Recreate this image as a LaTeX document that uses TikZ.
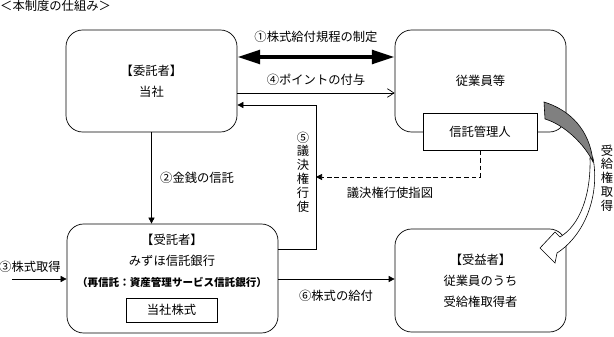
\documentclass[tikz,border=0pt]{standalone}
\usepackage{fontspec}
\setmainfont{Noto Sans CJK JP}
\usepackage{tikz}
\usetikzlibrary{arrows.meta}

\begin{document}
\begin{tikzpicture}[x=0.03cm, y=-0.03cm,
	font=\fontsize{10.5}{18}\selectfont,
	box/.style={draw, rounded corners=0.5cm, line width=0.6pt, align=center, inner sep=0pt},
	plainbox/.style={draw, fill=white, line width=0.6pt, inner sep=0pt},
	txt/.style={inner sep=0pt, align=center},
	vtxt/.style={inner sep=0pt, align=center, font=\fontsize{10.5}{11.8}\selectfont},
	arr/.style={line width=0.6pt, -{Triangle[length=1.8mm,width=1.8mm]}}]
				\useasboundingbox (0,0) rectangle (614,337);
				% Title
				\node[txt, anchor=west] (title) at (0,6) {＜本制度の仕組み＞};
				% Boxes
				\node[box, minimum width=5.13cm, minimum height=3.06cm] (itaku) at (151.5,81) {【委託者】\\当社};
				\node[box, minimum width=5.13cm, minimum height=3.06cm] (jugyo) at (480.5,81) {従業員等};
				\node[plainbox, minimum width=3.42cm, minimum height=1.11cm] (kanri) at (480,131.5) {信託管理人};
				\node[box, minimum width=6.33cm, minimum height=3.27cm] (jutaku) at (172.5,278.5) {};
				\node[txt] (jutakutext) at (172,261) {【受託者】\\みずほ信託銀行\\{\fontsize{9}{18}\selectfont\bfseries （再信託：資産管理サービス信託銀行）}};
				\node[plainbox, minimum width=2.73cm, minimum height=0.72cm] (tosha) at (171.5,310) {当社株式};
				\node[box, minimum width=5.13cm, minimum height=3.09cm] (jueki) at (480.5,280.5) {【受益者】\\従業員のうち\\受給権取得者};
				% Curved arrow
				\draw[fill=white, line width=0.5pt] (593,158) .. controls (600,195) and (585,235) .. (557,253) -- (555,263) -- (540,248) -- (555,232) -- (560,237) .. controls (580,225) and (591,195) .. (590,158) -- cycle;
				\draw[fill=black!50, line width=0.5pt] (544,102) .. controls (570,110) and (590,130) .. (593,162) .. controls (585,145) and (565,125) .. (545,119) -- cycle;
				\node[vtxt] (juken) at (607,178) {受\\給\\権\\取\\得};
				% 1
				\draw[line width=3.6pt, {Triangle[length=0.68cm,width=0.4cm]}-{Triangle[length=0.68cm,width=0.4cm]}] (itaku.east |- 0,57) -- (jugyo.west |- 0,57);
				\node[txt] (kitei) at (316,37) {①株式給付規程の制定};
				% 4
				\draw[line width=0.6pt, -{Straight Barb[length=2mm,width=2.6mm]}] (itaku.east |- 0,93) -- (jugyo.west |- 0,93);
				\node[txt] (point) at (316,80) {④ポイントの付与};
				% 5
				\coordinate (vote) at (316,105);
				\draw[arr] (jutaku.east |- 0,249) -| (vote) -- (itaku.east |- vote);
				\node[vtxt] (koshi) at (303,172) {⑤\\議\\決\\権\\行\\使};
				\draw[arr, dash pattern=on 4pt off 2.5pt] (kanri.south) |- (vote |- 0,177);
				\node[txt] (shizu) at (390,193) {議決権行使指図};
				% 2
				\draw[arr] (itaku.south) -- (jutaku.north -| itaku.south);
				\node[txt, anchor=west] (kinsen) at (160,178) {②金銭の信託};
				% 3
				\coordinate (buy) at (12,279);
				\draw[arr] (buy) -- (jutaku.west |- buy);
				\node[txt] (shutoku) at (30,267) {③株式取得};
				% 6
				\draw[arr] (jutaku.east |- 0,279) -- (jueki.west |- 0,279);
				\node[txt] (kyufu) at (336,296) {⑥株式の給付};
\end{tikzpicture}
\end{document}
